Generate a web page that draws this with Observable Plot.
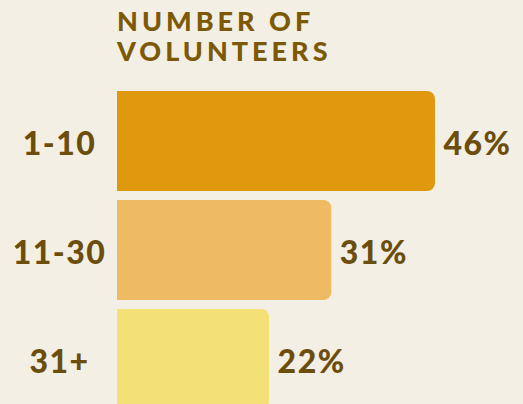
<!DOCTYPE html>
<html>
<head>
<meta charset="utf-8">
<script src="https://cdn.jsdelivr.net/npm/d3@7"></script>
<script src="https://cdn.jsdelivr.net/npm/@observablehq/plot@0.6"></script>
<style>
  html, body { margin: 0; padding: 0; background: #f4efe5; }
  body { width: 523px; height: 404px; overflow: hidden; }
  #title {
    height: 76px; box-sizing: border-box;
    padding: 6px 0 0 117px;
    font-family: Lato, "DejaVu Sans", sans-serif; font-weight: 900;
    font-size: 27px; line-height: 30px; letter-spacing: 4px;
    color: #7c5a05;
  }
  svg { display: block; }
</style>
</head>
<body>
<div id="title">NUMBER OF<br>VOLUNTEERS</div>
<div id="chart"></div>
<script>
const categories = ["1-10", "11-30", "31+"];
const values = [46, 31, 22];
const colors = ["#e0980f", "#eebb62", "#f3e076"];

const data = categories.map((c, i) => ({category: c, value: values[i], color: colors[i]}));

const font = "Lato, 'DejaVu Sans', sans-serif";
const textColor = "#6b4d0c";

const chart = Plot.plot({
  width: 523,
  height: 328,
  marginLeft: 117,
  marginRight: 88,
  marginTop: 0,
  marginBottom: 0,
  style: {background: "#f4efe5", fontFamily: font},
  x: {domain: [0, 46], axis: null},
  y: {domain: categories, range: [15, 333], paddingInner: 0.0826, paddingOuter: 0, axis: null},
  marks: [
    Plot.barX(data, {x: "value", y: "category", fill: "color", rx: 8}),
    Plot.barX(data, {x1: 0, x2: d => d.value - 3, y: "category", fill: "color"}),
    Plot.text(data, {
      x: "value", y: "category", text: d => d.value + "%",
      textAnchor: "start", dx: 8, dy: 3, fill: textColor,
      fontSize: 32, fontWeight: 900, fontFamily: font
    }),
    Plot.text(data, {
      y: "category", frameAnchor: "left", text: "category",
      textAnchor: "middle", dx: -58, dy: 3, fill: textColor,
      fontSize: 32, fontWeight: 900, fontFamily: font
    })
  ]
});
chart.querySelectorAll("text").forEach(t => t.style.letterSpacing = "1.5px");
document.getElementById("chart").appendChild(chart);
</script>
</body>
</html>
